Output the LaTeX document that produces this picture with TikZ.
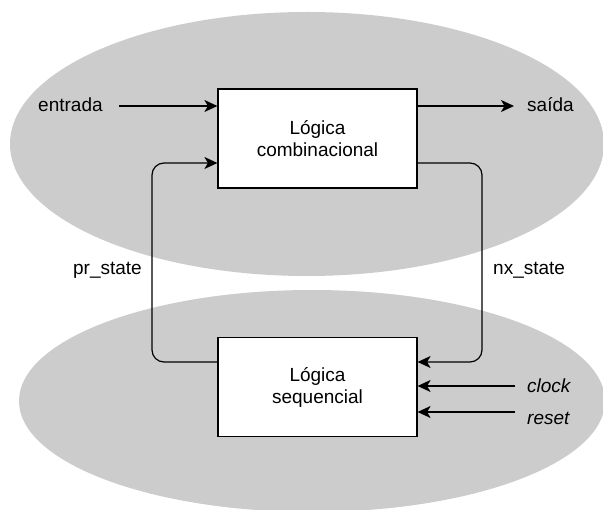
\documentclass[tikz,border=0pt]{standalone}
\usepackage{fontspec}
\setmainfont{Liberation Sans}
\usetikzlibrary{arrows.meta}
\definecolor{blobgray}{HTML}{CCCCCC}
\begin{document}
\begin{tikzpicture}[x=1pt,y=-1pt,
  every node/.style={font=\fontsize{19}{22}\selectfont},
  blob/.style={fill=blobgray, draw=none},
  block/.style={draw=black, line width=1.2pt, fill=white,
    minimum width=199pt, minimum height=99pt, align=center, inner sep=0pt},
  sigtext/.style={inner sep=0pt},
  sig/.style={line width=1.2pt, -{Stealth[length=13pt,width=12pt,inset=3.5pt]}},
  loopback/.style={sig, rounded corners=12pt}
]
\useasboundingbox (0,0) rectangle (603,510);
\clip (0,0) rectangle (603,510);

% shaded regions behind the two blocks
\fill[blob] (307,144) ellipse [x radius=297, y radius=132];
\fill[blob] (312,401) ellipse [x radius=293, y radius=111];

% blocks
\node[block] (comb) at (317.5,138.5) {Lógica\\combinacional};
\node[block] (seq)  at (317.5,387)   {Lógica\\sequencial};

% signal names
\node[sigtext, anchor=base west] (in)    at (38,112)  {entrada};
\node[sigtext, anchor=base west] (out)   at (527,112) {saída};
\node[sigtext, anchor=base east] (pr)    at (142,275) {pr\_state};
\node[sigtext, anchor=base west] (nx)    at (493,275) {nx\_state};
\node[sigtext, anchor=base west] (clk)   at (527,393) {\itshape clock};
\node[sigtext, anchor=base west] (rst)   at (527,425) {\itshape reset};

% anchor rows for the connectors
\coordinate (inS)  at (119,106);
\coordinate (outE) at (514,106);
\coordinate (clkS) at (515,386);
\coordinate (rstS) at (515,412);

% combinational in/out
\draw[sig] (inS) -- (comb.west |- inS);
\draw[sig] (comb.east |- outE) -- (outE);

% state feedback loops
\draw[loopback] (seq.west |- 0,362) -| (152,250) |- (comb.west |- 0,163);
\draw[loopback] (comb.east |- 0,163) -| (482,250) |- (seq.east |- 0,362);

% sequential control inputs
\draw[sig] (clkS) -- (seq.east |- clkS);
\draw[sig] (rstS) -- (seq.east |- rstS);
\end{tikzpicture}
\end{document}
